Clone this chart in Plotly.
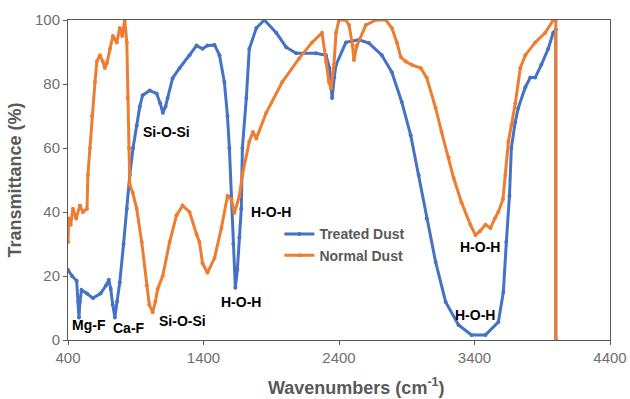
import plotly.graph_objects as go

# ---- Data ----
treated_wn = [400, 430, 464, 476, 481, 488, 500, 540, 584, 640, 680, 701, 715, 730, 746, 762, 782, 810, 834, 856,
              880, 907, 930, 951, 1003, 1054, 1080, 1100, 1120, 1135, 1172, 1224, 1297, 1349, 1393, 1429, 1481,
              1518, 1554, 1577, 1591, 1605, 1620, 1635, 1650, 1665, 1679, 1687, 1716, 1738, 1790, 1849, 1937,
              2010, 2084, 2231, 2304, 2330, 2349, 2365, 2378, 2451, 2547, 2621, 2716, 2790, 2863, 2929, 2988,
              3047, 3113, 3187, 3282, 3378, 3481, 3576, 3613, 3635, 3658, 3672, 3700, 3723, 3775, 3812, 3848,
              3893, 3944, 3981, 4000, 4000]
treated_t = [21.9, 20.0, 18.5, 12.0, 7.0, 12.0, 15.6, 14.5, 13.1, 14.5, 17.0, 18.8, 16.0, 11.0, 7.0, 12.0, 18.0,
             30.0, 41.0, 51.6, 60.0, 67.0, 73.0, 76.5, 78.0, 77.0, 74.0, 71.0, 73.0, 75.6, 81.8, 85.0, 89.0, 92.0,
             91.0, 92.0, 92.2, 89.0, 80.6, 70.0, 60.0, 45.0, 30.0, 16.3, 22.0, 32.0, 41.0, 60.0, 75.6, 91.0, 97.5,
             100.0, 96.0, 91.5, 89.6, 89.6, 89.0, 85.0, 75.6, 82.0, 86.0, 93.0, 93.8, 92.8, 89.0, 83.7, 74.4, 64.0,
             51.6, 38.0, 24.4, 11.9, 4.7, 1.6, 1.6, 5.6, 15.0, 30.6, 45.0, 60.0, 68.0, 72.5, 79.0, 82.0, 82.0, 86.0,
             91.0, 96.0, 97.0, 0.0]

normal_wn = [400, 405, 420, 437, 460, 488, 510, 540, 547, 562, 576, 599, 613, 635, 657, 672, 687, 709, 731, 760,
             782, 800, 819, 834, 841, 850, 856, 878, 907, 944, 981, 1000, 1025, 1045, 1062, 1099, 1150, 1201, 1246,
             1297, 1349, 1370, 1393, 1429, 1481, 1532, 1577, 1606, 1628, 1665, 1687, 1738, 1765, 1790, 1863, 1981,
             2106, 2201, 2275, 2304, 2326, 2341, 2363, 2378, 2400, 2451, 2474, 2500, 2510, 2532, 2598, 2672, 2746,
             2790, 2827, 2856, 2893, 2937, 3003, 3047, 3113, 3157, 3209, 3246, 3304, 3370, 3407, 3440, 3481, 3518,
             3550, 3576, 3610, 3628, 3650, 3672, 3701, 3738, 3775, 3848, 3922, 3981, 4000, 4000]
normal_t = [30.6, 38.0, 36.0, 41.0, 38.0, 42.0, 40.0, 41.0, 51.6, 60.0, 70.0, 80.6, 87.0, 89.0, 87.0, 85.0, 86.5,
            91.0, 95.0, 93.0, 97.5, 95.0, 100.0, 93.0, 75.6, 60.0, 48.4, 46.0, 41.0, 30.6, 17.0, 11.0, 8.7, 12.0,
            16.0, 20.0, 30.6, 39.0, 42.0, 40.0, 33.0, 30.6, 24.0, 21.0, 25.6, 35.0, 45.0, 44.0, 39.7, 45.0, 51.6,
            62.0, 65.0, 63.0, 71.0, 80.6, 88.0, 93.0, 96.0, 87.0, 80.6, 78.7, 86.0, 96.0, 100.0, 100.0, 98.4, 92.0,
            87.5, 92.0, 98.4, 100.0, 100.0, 97.5, 93.0, 88.4, 87.0, 86.0, 85.0, 82.0, 72.5, 65.0, 57.0, 50.6, 43.0,
            36.0, 32.8, 34.0, 36.0, 35.0, 38.0, 40.0, 44.0, 51.6, 62.0, 67.0, 74.0, 85.0, 89.0, 93.0, 96.0, 100.0,
            100.0, 0.0]

series_names = ["Treated Dust", "Normal Dust"]
x_ticks = [400, 1400, 2400, 3400, 4400]
y_ticks = [0, 20, 40, 60, 80, 100]

labels = ["Si-O-Si", "Mg-F", "Ca-F", "Si-O-Si", "H-O-H", "H-O-H", "H-O-H", "H-O-H"]
label_x = [1128, 554, 849, 1246, 1900, 1679, 3444, 3407]
label_y = [65, 4.7, 3.75, 5.9, 40, 11.9, 29, 7.8]

BLUE = "#4472C4"
ORANGE = "#ED7D31"
GRAY = "#595959"
TICKGRAY = "#6f6f6f"
FONT = "Liberation Sans, Arial"

fig = go.Figure()
fig.add_trace(go.Scatter(x=treated_wn, y=treated_t, name="<b>" + series_names[0] + "</b>",
                         mode="lines+markers",
                         line=dict(color=BLUE, width=3), marker=dict(color=BLUE, size=4)))
fig.add_trace(go.Scatter(x=normal_wn, y=normal_t, name="<b>" + series_names[1] + "</b>",
                         mode="lines+markers",
                         line=dict(color=ORANGE, width=3), marker=dict(color=ORANGE, size=4)))

for t, xx, yy in zip(labels, label_x, label_y):
    fig.add_annotation(x=xx, y=yy, text="<b>%s</b>" % t, showarrow=False,
                       font=dict(family=FONT, size=14, color="black"))

fig.add_annotation(xref="paper", yref="paper", x=(356 - 68) / 542, y=(340 - 386) / 320, yanchor="middle",
                   text="<b>Wavenumbers (cm<sup>-1</sup>)</b>", showarrow=False,
                   font=dict(family=FONT, size=18, color=GRAY))

fig.update_layout(
    width=630, height=399,
    margin=dict(l=68, r=20, t=20, b=59, autoexpand=False),
    paper_bgcolor="white", plot_bgcolor="white",
    font=dict(family=FONT, size=15, color=GRAY),
    showlegend=True,
    legend=dict(x=0.39, y=0.38, xanchor="left", yanchor="top", bgcolor="rgba(0,0,0,0)",
                font=dict(size=14, color=GRAY, family=FONT),
                itemwidth=30, tracegroupgap=0, traceorder="normal"),
    xaxis=dict(range=[400, 4400], tickvals=x_ticks, showgrid=False, zeroline=False, automargin=False,
               showline=True, mirror=True, linecolor=GRAY, linewidth=1,
               ticks="outside", ticklen=4, tickcolor=GRAY,
               tickfont=dict(size=15, color=TICKGRAY)),
    yaxis=dict(range=[0, 100], tickvals=y_ticks, showgrid=False, zeroline=False, automargin=False,
               showline=True, mirror=True, linecolor=GRAY, linewidth=1,
               ticks="outside", ticklen=4, tickcolor=GRAY,
               tickfont=dict(size=15, color=TICKGRAY),
               title=dict(text="<b>Transmittance (%)</b>", font=dict(size=18, color=GRAY), standoff=8)),
)

fig.write_html("out.html")
